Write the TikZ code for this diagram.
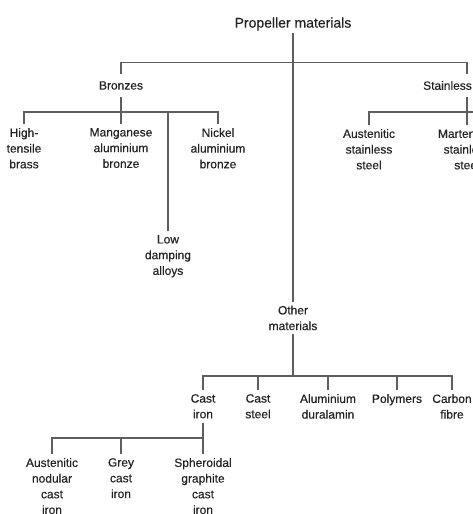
\documentclass[tikz,border=0pt]{standalone}
\usepackage{fontspec}
\setmainfont{Liberation Sans}
\newfontfamily\medfont{Liberation Sans}[FakeBold=0.35]
\definecolor{ln}{HTML}{5E5E5E}
\definecolor{txt}{HTML}{222222}
\begin{document}
\begin{tikzpicture}[x=1pt,y=-1pt,
  lbl/.style={font=\medfont\fontsize{12}{15.7}\selectfont, align=center, text=txt, inner xsep=1pt},
  kid/.style={lbl, anchor=north, inner ysep=4pt},
  parent/.style={lbl, inner ysep=7pt},
  conn/.style={draw=ln, line width=1.1pt}]
\useasboundingbox (0,0) rectangle (473,514);
\clip (0,0) rectangle (473,514);
% title
\node[lbl, font=\medfont\fontsize{14}{17}\selectfont, inner sep=2pt] (pm) at (293,24) {Propeller materials};
% level 1
\node[parent] (br) at (121,85.5) {Bronzes};
\node[parent] (st) at (447.5,85.5) {Stainless};
\node[lbl, anchor=north, inner ysep=3.5pt] (om) at (293,302) {Other\\materials};
% bronzes children
\node[kid] (hts) at (24,124) {High-\\tensile\\brass};
\node[kid] (mab) at (121,124) {Manganese\\aluminium\\bronze};
\node[kid] (lda) at (168,231) {Low\\damping\\alloys};
\node[kid] (nab) at (218,124) {Nickel\\aluminium\\bronze};
% stainless children
\node[kid] (ass) at (369,125) {Austenitic\\stainless\\steel};
\node[kid] (mss) at (467,125) {Martensitic\\stainless\\steel};
% other children
\node[kid] (ci) at (203,390) {Cast\\iron};
\node[kid] (cs) at (258,390) {Cast\\steel};
\node[kid] (ad) at (328,390) {Aluminium\\duralamin};
\node[kid] (po) at (397,390) {Polymers};
\node[kid] (cf) at (452,390) {Carbon\\fibre};
% cast iron children
\node[kid] (anci) at (52,454) {Austenitic\\nodular\\cast\\iron};
\node[kid] (gci) at (121,454) {Grey\\cast\\iron};
\node[kid] (sgci) at (203,454) {Spheroidal\\graphite\\cast\\iron};
% bus coordinates
\coordinate (stx) at (467,62.5);
\coordinate (bb) at (121,112);
\coordinate (sb) at (476,112);
\coordinate (ob) at (293,376);
\coordinate (cb) at (203,438);
% connectors
\draw[conn] (pm.south) -- (om.north);
\draw[conn] (br.north) |- (stx) -- (st.north -| stx);
\draw[conn] (br.south) -- (bb);
\draw[conn] (hts.north) |- (nab.north |- bb) -- (nab.north);
\draw[conn] (mab.north) -- (bb);
\draw[conn] (lda.north) -- (lda.north |- bb);
\draw[conn] (st.south -| stx) -- (mss.north);
\draw[conn] (ass.north) |- (sb);
\draw[conn] (om.south) -- (ob);
\draw[conn] (ci.north) |- (cf.north |- ob) -- (cf.north);
\draw[conn] (cs.north) -- (cs.north |- ob);
\draw[conn] (ad.north) -- (ad.north |- ob);
\draw[conn] (po.north) -- (po.north |- ob);
\draw[conn] (ci.south) -- (cb);
\draw[conn] (anci.north) |- (sgci.north |- cb) -- (sgci.north);
\draw[conn] (gci.north) -- (gci.north |- cb);
\end{tikzpicture}
\end{document}
